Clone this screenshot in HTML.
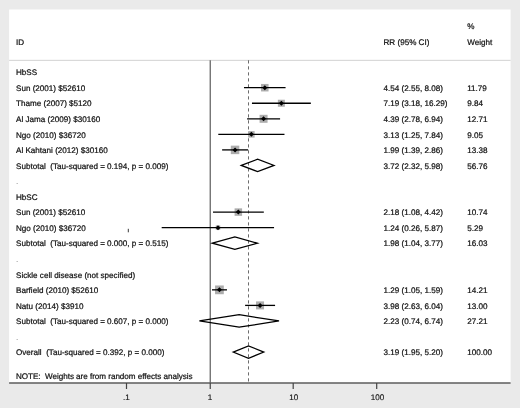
<!DOCTYPE html>
<html><head><meta charset="utf-8"><title>Forest plot</title>
<style>html,body{margin:0;padding:0;background:#eaeaea;}svg{display:block}text{font-family:"Liberation Sans",sans-serif;font-size:8.1px;fill:#111;stroke:#111;stroke-width:0.22px;text-rendering:geometricPrecision;}</style></head><body>
<svg width="520" height="408" viewBox="0 0 520 408">
<rect x="0" y="0" width="520" height="408" fill="#eaeaea"/>
<rect x="9.1" y="9.5" width="501.5" height="373.5" fill="#ffffff"/>
<line x1="9.1" y1="60.35" x2="510.6" y2="60.35" stroke="#d2d2d2" stroke-width="1"/>
<line x1="210.25" y1="60.3" x2="210.25" y2="383" stroke="#686868" stroke-width="1.3"/>
<line x1="248.5" y1="60.3" x2="248.5" y2="383" stroke="#3c3c3c" stroke-width="0.75" stroke-dasharray="3.2 2.8"/>
<line x1="9.1" y1="383" x2="510.6" y2="383" stroke="#5c5c5c" stroke-width="1.3"/>
<line x1="126.50" y1="383" x2="126.50" y2="389" stroke="#444" stroke-width="1.2"/>
<text x="126.30" y="399.5" text-anchor="middle" style="stroke-width:0.12px">.1</text>
<line x1="210.25" y1="383" x2="210.25" y2="389" stroke="#444" stroke-width="1.2"/>
<text x="210.05" y="399.5" text-anchor="middle" style="stroke-width:0.12px">1</text>
<line x1="293.20" y1="383" x2="293.20" y2="389" stroke="#444" stroke-width="1.2"/>
<text x="293.80" y="399.5" text-anchor="middle" style="stroke-width:0.12px">10</text>
<line x1="376.70" y1="383" x2="376.70" y2="389" stroke="#444" stroke-width="1.2"/>
<text x="377.50" y="399.5" text-anchor="middle" style="stroke-width:0.12px">100</text>
<text x="16" y="44.5">ID</text>
<text x="383.5" y="44.5">RR (95% CI)</text>
<text x="467.2" y="29.3">%</text>
<text x="467.2" y="44.5">Weight</text>
<text x="16" y="75.35" xml:space="preserve">HbSS</text>
<text x="16" y="90.90" xml:space="preserve">Sun (2001) $52610</text>
<rect x="261.04" y="83.95" width="7.50" height="7.50" fill="#adadad"/>
<line x1="243.99" y1="87.70" x2="285.57" y2="87.70" stroke="#000" stroke-width="1.3"/>
<polygon points="262.29,87.70 264.79,85.20 267.29,87.70 264.79,90.20" fill="#000"/>
<text x="383.5" y="90.90">4.54 (2.55, 8.08)</text>
<text x="467.2" y="90.90">11.79</text>
<text x="16" y="106.45" xml:space="preserve">Thame (2007) $5120</text>
<rect x="277.86" y="99.75" width="7.00" height="7.00" fill="#adadad"/>
<line x1="251.95" y1="103.25" x2="310.84" y2="103.25" stroke="#000" stroke-width="1.3"/>
<polygon points="278.86,103.25 281.36,100.75 283.86,103.25 281.36,105.75" fill="#000"/>
<text x="383.5" y="106.45">7.19 (3.18, 16.29)</text>
<text x="467.2" y="106.45">9.84</text>
<text x="16" y="122.00" xml:space="preserve">Al Jama (2009) $30160</text>
<rect x="259.57" y="114.80" width="8.00" height="8.00" fill="#adadad"/>
<line x1="247.11" y1="118.80" x2="280.08" y2="118.80" stroke="#000" stroke-width="1.3"/>
<polygon points="261.07,118.80 263.57,116.30 266.07,118.80 263.57,121.30" fill="#000"/>
<text x="383.5" y="122.00">4.39 (2.78, 6.94)</text>
<text x="467.2" y="122.00">12.71</text>
<text x="16" y="137.55" xml:space="preserve">Ngo (2010) $36720</text>
<rect x="248.13" y="131.10" width="6.50" height="6.50" fill="#adadad"/>
<line x1="218.29" y1="134.35" x2="284.48" y2="134.35" stroke="#000" stroke-width="1.3"/>
<polygon points="248.88,134.35 251.38,131.85 253.88,134.35 251.38,136.85" fill="#000"/>
<text x="383.5" y="137.55">3.13 (1.25, 7.84)</text>
<text x="467.2" y="137.55">9.05</text>
<text x="16" y="153.10" xml:space="preserve">Al Kahtani (2012) $30160</text>
<rect x="230.80" y="145.65" width="8.50" height="8.50" fill="#adadad"/>
<line x1="222.12" y1="149.90" x2="248.13" y2="149.90" stroke="#000" stroke-width="1.3"/>
<polygon points="232.55,149.90 235.05,147.40 237.55,149.90 235.05,152.40" fill="#000"/>
<text x="383.5" y="153.10">1.99 (1.39, 2.86)</text>
<text x="467.2" y="153.10">13.38</text>
<text x="16" y="168.65" xml:space="preserve">Subtotal  (Tau-squared = 0.194, p = 0.009)</text>
<polygon points="241.29,165.45 257.61,159.25 274.02,165.45 257.61,171.65" fill="none" stroke="#000" stroke-width="1.25" stroke-linejoin="miter"/>
<text x="383.5" y="168.65">3.72 (2.32, 5.98)</text>
<text x="467.2" y="168.65">56.76</text>
<text x="16" y="184.20" xml:space="preserve" style="fill:#666;stroke:none">.</text>
<text x="16" y="199.75" xml:space="preserve">HbSC</text>
<text x="16" y="215.30" xml:space="preserve">Sun (2001) $52610</text>
<rect x="234.59" y="208.35" width="7.50" height="7.50" fill="#adadad"/>
<line x1="213.02" y1="212.10" x2="263.82" y2="212.10" stroke="#000" stroke-width="1.3"/>
<polygon points="235.84,212.10 238.34,209.60 240.84,212.10 238.34,214.60" fill="#000"/>
<text x="383.5" y="215.30">2.18 (1.08, 4.42)</text>
<text x="467.2" y="215.30">10.74</text>
<text x="16" y="230.85" xml:space="preserve">Ngo (2010) $36720</text>
<rect x="215.75" y="225.40" width="4.50" height="4.50" fill="#adadad"/>
<line x1="161.69" y1="227.65" x2="274.05" y2="227.65" stroke="#000" stroke-width="1.3"/>
<polygon points="215.50,227.65 218.00,225.15 220.50,227.65 218.00,230.15" fill="#000"/>
<text x="383.5" y="230.85">1.24 (0.26, 5.87)</text>
<text x="467.2" y="230.85">5.29</text>
<text x="16" y="246.40" xml:space="preserve">Subtotal  (Tau-squared = 0.000, p = 0.515)</text>
<polygon points="212.36,243.20 234.87,237.00 257.39,243.20 234.87,249.40" fill="none" stroke="#000" stroke-width="1.25" stroke-linejoin="miter"/>
<text x="383.5" y="246.40">1.98 (1.04, 3.77)</text>
<text x="467.2" y="246.40">16.03</text>
<text x="16" y="261.95" xml:space="preserve" style="fill:#666;stroke:none">.</text>
<text x="16" y="277.50" xml:space="preserve">Sickle cell disease (not specified)</text>
<text x="16" y="293.05" xml:space="preserve">Barfield (2010) $52610</text>
<rect x="215.05" y="285.48" width="8.75" height="8.75" fill="#adadad"/>
<line x1="212.01" y1="289.85" x2="226.97" y2="289.85" stroke="#000" stroke-width="1.3"/>
<polygon points="216.93,289.85 219.43,287.35 221.93,289.85 219.43,292.35" fill="#000"/>
<text x="383.5" y="293.05">1.29 (1.05, 1.59)</text>
<text x="467.2" y="293.05">14.21</text>
<text x="16" y="308.60" xml:space="preserve">Natu (2014) $3910</text>
<rect x="256.04" y="301.40" width="8.00" height="8.00" fill="#adadad"/>
<line x1="245.11" y1="305.40" x2="275.08" y2="305.40" stroke="#000" stroke-width="1.3"/>
<polygon points="257.54,305.40 260.04,302.90 262.54,305.40 260.04,307.90" fill="#000"/>
<text x="383.5" y="308.60">3.98 (2.63, 6.04)</text>
<text x="467.2" y="308.60">13.00</text>
<text x="16" y="324.15" xml:space="preserve">Subtotal  (Tau-squared = 0.607, p = 0.000)</text>
<polygon points="199.40,320.95 239.16,314.75 279.03,320.95 239.16,327.15" fill="none" stroke="#000" stroke-width="1.25" stroke-linejoin="miter"/>
<text x="383.5" y="324.15">2.23 (0.74, 6.74)</text>
<text x="467.2" y="324.15">27.21</text>
<text x="16" y="339.70" xml:space="preserve" style="fill:#666;stroke:none">.</text>
<text x="16" y="355.25" xml:space="preserve">Overall  (Tau-squared = 0.392, p = 0.000)</text>
<polygon points="233.20,352.05 248.50,345.85 263.80,352.05 248.50,358.25" fill="none" stroke="#000" stroke-width="1.25" stroke-linejoin="miter"/>
<text x="383.5" y="355.25">3.19 (1.95, 5.20)</text>
<text x="467.2" y="355.25">100.00</text>
<line x1="128.3" y1="228.8" x2="128.3" y2="232.3" stroke="#222" stroke-width="0.9"/>
<text x="16" y="378.6" xml:space="preserve" textLength="176.5" lengthAdjust="spacing">NOTE:  Weights are from random effects analysis</text>
</svg></body></html>
